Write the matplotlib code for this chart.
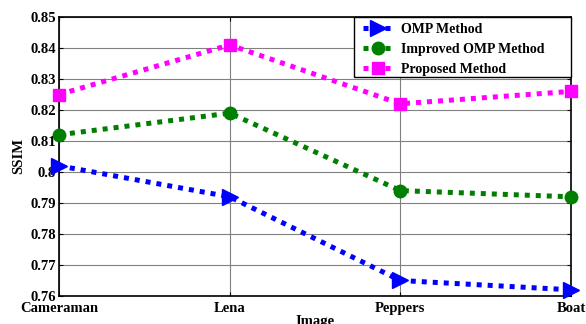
import matplotlib
matplotlib.use("Agg")
import matplotlib.pyplot as plt
from matplotlib.patches import Rectangle

images = ["Cameraman", "Lena", "Peppers", "Boat"]
omp = [0.802, 0.792, 0.765, 0.762]
improved = [0.812, 0.819, 0.794, 0.792]
proposed = [0.825, 0.841, 0.822, 0.826]
yticks = [0.76, 0.77, 0.78, 0.79, 0.8, 0.81, 0.82, 0.83, 0.84, 0.85]
ytick_labels = ["0.76", "0.77", "0.78", "0.79", "0.8", "0.81", "0.82", "0.83", "0.84", "0.85"]

plt.rcParams['font.family'] = ['Liberation Serif', 'DejaVu Serif']
plt.rcParams['font.weight'] = 'bold'

fig = plt.figure(figsize=(5.86, 3.24), dpi=100)
ax = fig.add_axes([59 / 586, 28 / 324, 512 / 586, 279 / 324])
x = list(range(len(images)))
ls = (0, (1, 1.2))
ax.plot(x, omp, color='#0000ff', linestyle=ls, linewidth=3.6, marker='>', markersize=11, label='OMP Method', clip_on=False, zorder=3)
ax.plot(x, improved, color='#007f00', linestyle=ls, linewidth=3.6, marker='o', markersize=9, label='Improved OMP Method', clip_on=False, zorder=3)
ax.plot(x, proposed, color='#ff00ff', linestyle=ls, linewidth=3.6, marker='s', markersize=9, label='Proposed Method', clip_on=False, zorder=3)

ax.set_xlim(0, 3)
ax.set_ylim(0.76, 0.85)
ax.set_xticks(x)
ax.set_xticklabels(images, fontsize=10.5, fontweight='bold')
ax.set_yticks(yticks)
ax.set_yticklabels(ytick_labels, fontsize=10.5, fontweight='bold')
ax.tick_params(axis='both', direction='in', length=3, width=0.8, top=True, right=True)
ax.tick_params(axis='x', pad=4)
ax.tick_params(axis='y', pad=2)
ax.grid(True, color='#808080', linewidth=0.8)
for s in ax.spines.values():
    s.set_linewidth(1.2)
ax.set_xlabel('Image', fontsize=10.5, fontweight='bold', labelpad=0)
ax.set_ylabel('SSIM', fontsize=10.5, fontweight='bold', labelpad=4)

# legend box (MATLAB-style, extra right padding)
box_left = (354 - 59) / 512
box_bottom = (296 - 77) / 279
frame = Rectangle((box_left, box_bottom), 1.0 - box_left, 1.0 - box_bottom, transform=ax.transAxes,
                  facecolor='white', edgecolor='black', linewidth=1.0, zorder=6, clip_on=False)
ax.add_patch(frame)
leg = ax.legend(loc='upper left', bbox_to_anchor=((357 - 59) / 512, 1.0), borderaxespad=0, frameon=False,
                handlelength=2.16, handletextpad=0.58, borderpad=0.42, labelspacing=0.52,
                prop={'family': 'Liberation Serif', 'weight': 'bold', 'size': 10})
leg.set_zorder(7)

fig.savefig('out.png', dpi=100)
